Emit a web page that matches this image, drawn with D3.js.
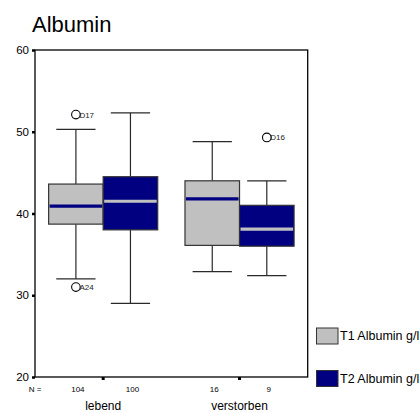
<!DOCTYPE html>
<html>
<head>
<meta charset="utf-8">
<script src="https://cdn.jsdelivr.net/npm/d3@7"></script>
<style>
  html, body { margin: 0; padding: 0; background: #fff; }
  svg { display: block; font-family: "Liberation Sans", Arial, sans-serif; }
</style>
</head>
<body>
<svg id="chart" width="420" height="413"></svg>
<script>
// Albumin at T1 and T2, grouped by outcome
const categories = ["lebend", "verstorben"];
const seriesNames = ["T1 Albumin g/l", "T2 Albumin g/l"];
const seriesFill = ["#c0c0c0", "#000080"];
const medianColor = ["#000080", "#c0c0c0"];

// per series, one value per category
const whiskerLow  = [[32.0, 32.9], [29.0, 32.4]];
const q1          = [[38.7, 36.1], [38.0, 36.0]];
const median      = [[40.9, 41.8], [41.5, 38.1]];
const q3          = [[43.6, 44.0], [44.5, 41.0]];
const whiskerHigh = [[50.3, 48.8], [52.3, 44.0]];
const counts      = [[104, 16], [100, 9]];

// outliers: category index, series index, value, case label
const outlierCat    = [0, 0, 1];
const outlierSeries = [0, 0, 1];
const outlierValue  = [52.1, 31.0, 49.3];
const outlierLabel  = ["D17", "A24", "D16"];

const yTicks = [20, 30, 40, 50, 60];

const svg = d3.select("#chart");
const plot = { left: 35, right: 307.7, top: 50, bottom: 377 };

const y = d3.scaleLinear().domain([20, 60]).range([plot.bottom, plot.top]);
const x0 = d3.scaleBand().domain(categories).range([plot.left, plot.right]);
const bw = x0.bandwidth();
const x1 = d3.scaleBand().domain(d3.range(seriesNames.length)).range([bw * 0.1, bw * 0.9]);
const boxW = x1.bandwidth();

// title
svg.append("text").attr("x", 32).attr("y", 31.5)
  .attr("font-size", 22).attr("fill", "#000").text("Albumin");

// plot frame
svg.append("rect")
  .attr("x", plot.left).attr("y", plot.top)
  .attr("width", plot.right - plot.left).attr("height", plot.bottom - plot.top)
  .attr("fill", "none").attr("stroke", "#000").attr("stroke-width", 1.3);

// y axis
const yAxis = d3.axisLeft(y).tickValues(yTicks).tickSize(3).tickPadding(3);
const gy = svg.append("g").attr("transform", `translate(${plot.left},0)`).call(yAxis);
gy.select(".domain").remove();
gy.selectAll(".tick line").attr("stroke", "#000").attr("stroke-width", 2.5);
gy.selectAll(".tick text").attr("font-size", 11.5).attr("fill", "#000")
  .attr("font-family", "Liberation Sans, Arial, sans-serif");

// x axis (category ticks below the frame)
const xAxis = d3.axisBottom(x0).tickSize(3).tickFormat("");
const gx = svg.append("g").attr("transform", `translate(0,${plot.bottom})`).call(xAxis);
gx.select(".domain").remove();
gx.selectAll(".tick line").attr("stroke", "#000").attr("stroke-width", 3);

// category labels
svg.append("g").selectAll("text").data(categories).join("text")
  .attr("x", d => x0(d) + bw / 2).attr("y", 410)
  .attr("text-anchor", "middle").attr("font-size", 12).attr("fill", "#000")
  .text(d => d);

// N row
svg.append("text").attr("x", 35).attr("y", 392).attr("text-anchor", "middle")
  .attr("font-size", 8).attr("fill", "#000").text("N =");

const boxes = [];
categories.forEach((c, ci) => {
  seriesNames.forEach((s, si) => {
    boxes.push({
      ci, si,
      cx: x0(c) + x1(si) + boxW / 2,
      lo: whiskerLow[si][ci], q1: q1[si][ci], med: median[si][ci],
      q3: q3[si][ci], hi: whiskerHigh[si][ci], n: counts[si][ci]
    });
  });
});

svg.append("g").selectAll("text").data(boxes).join("text")
  .attr("x", d => d.cx + 2).attr("y", 392).attr("text-anchor", "middle")
  .attr("font-size", 8).attr("fill", "#000").text(d => d.n);

const gb = svg.append("g");
const capW = boxW * 0.72;
const whiskerColor = "#2a2a2a";

boxes.forEach(d => {
  const g = gb.append("g");
  // whiskers
  g.append("line").attr("x1", d.cx).attr("x2", d.cx)
    .attr("y1", y(d.hi)).attr("y2", y(d.q3)).attr("stroke", whiskerColor).attr("stroke-width", 1.2);
  g.append("line").attr("x1", d.cx).attr("x2", d.cx)
    .attr("y1", y(d.q1)).attr("y2", y(d.lo)).attr("stroke", whiskerColor).attr("stroke-width", 1.2);
  g.append("line").attr("x1", d.cx - capW / 2).attr("x2", d.cx + capW / 2)
    .attr("y1", y(d.hi)).attr("y2", y(d.hi)).attr("stroke", whiskerColor).attr("stroke-width", 1.2);
  g.append("line").attr("x1", d.cx - capW / 2).attr("x2", d.cx + capW / 2)
    .attr("y1", y(d.lo)).attr("y2", y(d.lo)).attr("stroke", whiskerColor).attr("stroke-width", 1.2);
  // box
  g.append("rect").attr("x", d.cx - boxW / 2).attr("width", boxW)
    .attr("y", y(d.q3)).attr("height", y(d.q1) - y(d.q3))
    .attr("fill", seriesFill[d.si]).attr("stroke", "#333").attr("stroke-width", 1.2);
  // median
  g.append("line").attr("x1", d.cx - boxW / 2 + 1).attr("x2", d.cx + boxW / 2 - 1)
    .attr("y1", y(d.med)).attr("y2", y(d.med))
    .attr("stroke", medianColor[d.si]).attr("stroke-width", 3.2);
});

// outliers
const outliers = outlierValue.map((v, i) => ({
  cx: x0(categories[outlierCat[i]]) + x1(outlierSeries[i]) + boxW / 2,
  v, label: outlierLabel[i]
}));
const go = svg.append("g");
go.selectAll("circle").data(outliers).join("circle")
  .attr("cx", d => d.cx).attr("cy", d => y(d.v)).attr("r", 4.3)
  .attr("fill", "#fff").attr("stroke", "#000").attr("stroke-width", 1.1);
go.selectAll("text").data(outliers).join("text")
  .attr("x", d => d.cx + 3.5).attr("y", d => y(d.v) + 3)
  .attr("font-size", 8).attr("fill", "#222").text(d => d.label);

// legend
const lg = svg.append("g");
const legendY = [328, 370.5];
seriesNames.forEach((s, i) => {
  lg.append("rect").attr("x", 316.5).attr("y", legendY[i]).attr("width", 21.5).attr("height", 16)
    .attr("fill", seriesFill[i]).attr("stroke", "#333").attr("stroke-width", 1);
  lg.append("text").attr("x", 340).attr("y", legendY[i] + 12)
    .attr("font-size", 12.5).attr("fill", "#000").text(s);
});
</script>
</body>
</html>
